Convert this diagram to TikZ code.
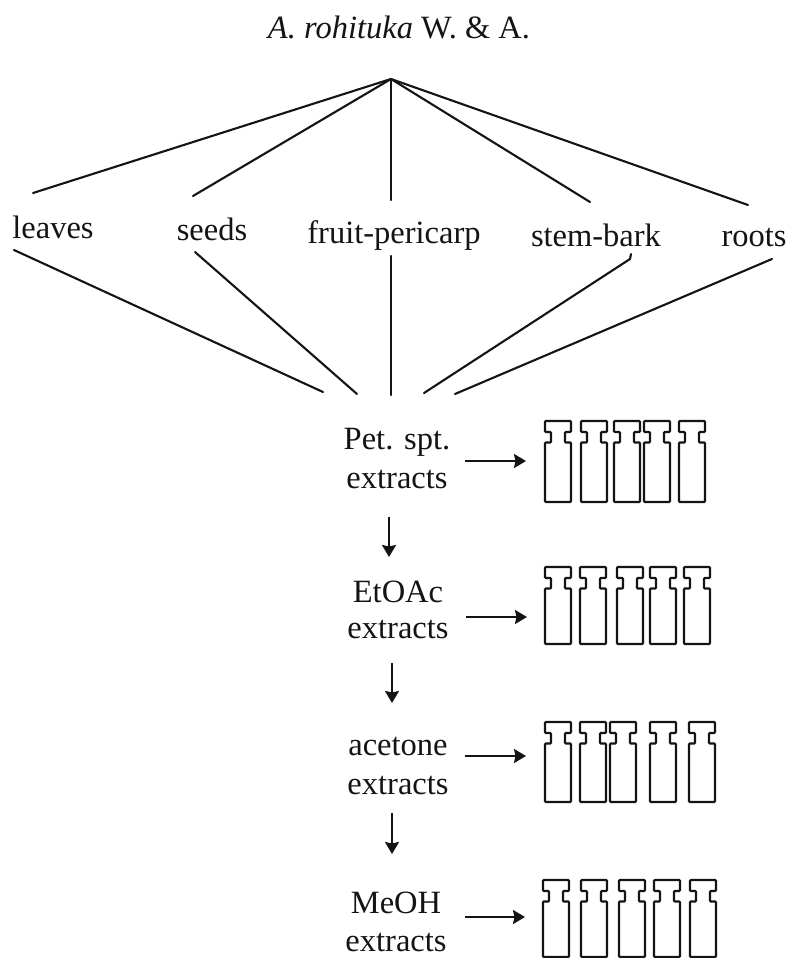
\documentclass[tikz,border=0pt]{standalone}
\usepackage{fontspec}
\setmainfont{Liberation Serif}
\usetikzlibrary{arrows.meta}
\tikzset{
  lbl/.style={anchor=base,inner sep=0pt,outer sep=0pt,font=\fontsize{32.5}{32.5}\selectfont,text=black!92},
  branch/.style={line width=2.1pt,black!92,line cap=round},
  flow/.style={line width=2.1pt,black!92,-{Stealth[length=12pt,width=14pt,inset=1.5pt]}},
  vial/.pic={
    \draw[line width=2.1pt,black!92,rounded corners=0.8pt]
      (0,0) -- (#1,0) -- (#1,11) -- (#1-6,11) -- (#1-6,21.5) -- (#1,21.5)
      -- (#1,\vialh) -- (0,\vialh) -- (0,21.5) -- (6,21.5) -- (6,11) -- (0,11) -- cycle;
  }
}
\begin{document}
\begin{tikzpicture}[x=1pt,y=-1pt]
\useasboundingbox[fill=white] (0,0) rectangle (790,958);
\clip (0,0) rectangle (790,958);

\node[lbl] (title) at (399,38) {\textit{A. rohituka} W. \& A.};
\node[lbl] (leaves) at (53,238) {leaves};
\node[lbl] (seeds) at (212,240) {seeds};
\node[lbl] (fruit) at (394,243) {fruit-pericarp};
\node[lbl] (stem) at (596,246) {stem-bark};
\node[lbl] (roots) at (754,246) {roots};

\node[lbl] (pet) at (397,449) {Pet. spt.};
\node[lbl] (petx) at (397,488) {extracts};
\node[lbl] (etoac) at (398,602) {EtOAc};
\node[lbl] (etoacx) at (398,638) {extracts};
\node[lbl] (acetone) at (398,755) {acetone};
\node[lbl] (acetonex) at (398,794) {extracts};
\node[lbl] (meoh) at (396,913) {MeOH};
\node[lbl] (meohx) at (396,951) {extracts};

\coordinate (apex) at (391,79);
\coordinate (t1) at (33,193);
\coordinate (t2) at (193,196);
\coordinate (t3) at (391,200);
\coordinate (t4) at (590,202);
\coordinate (t5) at (748,205);
\foreach \c in {t1,t2,t3,t4,t5} \draw[branch] (apex) -- (\c);

\coordinate (b1) at (14,250);
\coordinate (b2) at (195,252);
\coordinate (b3) at (391,256);
\coordinate (b4) at (631,254);
\coordinate (b4a) at (630,259);
\coordinate (b5) at (772,259);
\coordinate (e1) at (323,392);
\coordinate (e2) at (357,394);
\coordinate (e3) at (391,395);
\coordinate (e4) at (424,393);
\coordinate (e5) at (455,394);
\draw[branch] (b1) -- (e1);
\draw[branch] (b2) -- (e2);
\draw[branch] (b3) -- (e3);
\draw[branch] (b4) -- (b4a) -- (e4);
\draw[branch] (b5) -- (e5);

\coordinate (h1a) at (465,461); \coordinate (h1b) at (526,461);
\coordinate (h2a) at (466,617); \coordinate (h2b) at (527,617);
\coordinate (h3a) at (465,756); \coordinate (h3b) at (526,756);
\coordinate (h4a) at (465,917); \coordinate (h4b) at (525,917);
\coordinate (v1a) at (389,517); \coordinate (v1b) at (389,557);
\coordinate (v2a) at (392,663); \coordinate (v2b) at (392,703);
\coordinate (v3a) at (392,813); \coordinate (v3b) at (392,854);
\foreach \c in {h1,h2,h3,h4,v1,v2,v3} \draw[flow] (\c a) -- (\c b);

\def\vialh{81}
\foreach \x in {545,581,614,644,679} \pic at (\x,421) {vial=26};
\def\vialh{77}
\foreach \x in {545,580,617,650,684} \pic at (\x,567) {vial=26};
\def\vialh{80}
\foreach \x in {545,580,610,650,689} \pic at (\x,722) {vial=26};
\def\vialh{77}
\foreach \x in {543,581,619,654,690} \pic at (\x,880) {vial=26};
\end{tikzpicture}
\end{document}
